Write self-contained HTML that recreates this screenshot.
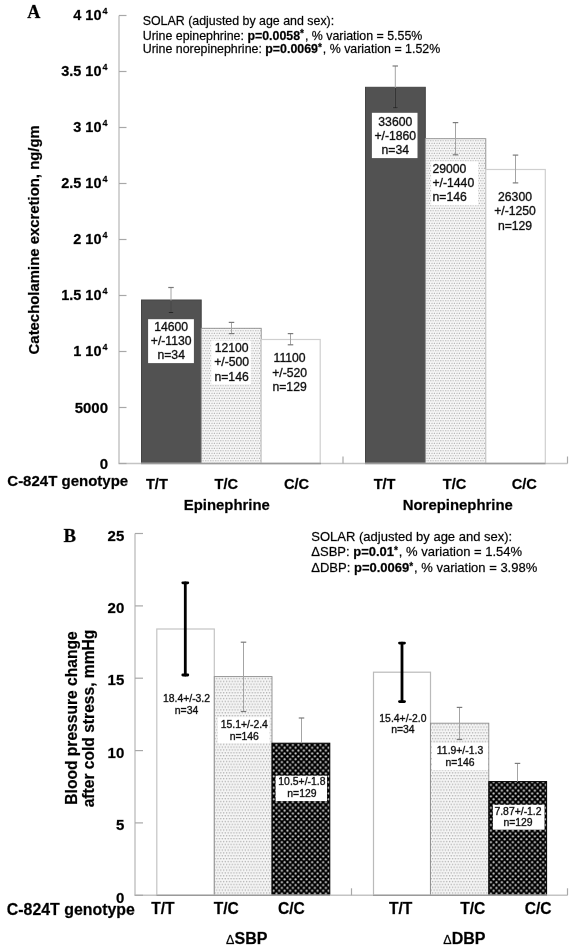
<!DOCTYPE html><html><head><meta charset="utf-8"><style>html,body{margin:0;padding:0;background:#fff;}svg{display:block;will-change:transform} text{stroke:#000;stroke-width:0.35px;stroke-opacity:0.6}</style></head><body>
<svg width="576" height="948" viewBox="0 0 576 948" font-family='"Liberation Sans", sans-serif'>
<defs>
<pattern id="lt" patternUnits="userSpaceOnUse" width="2.5" height="5"><rect width="2.5" height="5" fill="#f7f7f7"/><circle cx="0.75" cy="0.75" r="0.62" fill="#9a9a9a"/><circle cx="2" cy="3.25" r="0.62" fill="#9a9a9a"/></pattern>
<pattern id="lt2" patternUnits="userSpaceOnUse" width="2.86" height="5.72"><rect width="2.86" height="5.72" fill="#f6f6f6"/><circle cx="0.7" cy="0.7" r="0.62" fill="#999"/><circle cx="2.13" cy="3.56" r="0.62" fill="#999"/></pattern>
<pattern id="bk" patternUnits="userSpaceOnUse" width="5.5" height="5.72"><rect width="5.5" height="5.72" fill="#000"/><circle cx="1.4" cy="1.4" r="1.1" fill="#d8d8d8"/><circle cx="4.15" cy="4.26" r="1.1" fill="#d8d8d8"/></pattern>
</defs>
<rect width="576" height="948" fill="#fff"/>
<text x="27.2" y="18.2" font-family='"Liberation Serif", serif' font-weight="bold" font-size="18.2">A</text>
<text x="101.5" y="20.3" text-anchor="end" font-weight="bold" font-size="14.5">4 10</text>
<text x="102.4" y="13.9" font-weight="bold" font-size="9">4</text>
<text x="101.5" y="76.3" text-anchor="end" font-weight="bold" font-size="14.5">3.5 10</text>
<text x="102.4" y="69.9" font-weight="bold" font-size="9">4</text>
<text x="101.5" y="132.3" text-anchor="end" font-weight="bold" font-size="14.5">3 10</text>
<text x="102.4" y="125.9" font-weight="bold" font-size="9">4</text>
<text x="101.5" y="188.3" text-anchor="end" font-weight="bold" font-size="14.5">2.5 10</text>
<text x="102.4" y="181.9" font-weight="bold" font-size="9">4</text>
<text x="101.5" y="244.3" text-anchor="end" font-weight="bold" font-size="14.5">2 10</text>
<text x="102.4" y="237.9" font-weight="bold" font-size="9">4</text>
<text x="101.5" y="300.3" text-anchor="end" font-weight="bold" font-size="14.5">1.5 10</text>
<text x="102.4" y="293.9" font-weight="bold" font-size="9">4</text>
<text x="101.5" y="356.3" text-anchor="end" font-weight="bold" font-size="14.5">1 10</text>
<text x="102.4" y="349.9" font-weight="bold" font-size="9">4</text>
<text x="108" y="413.2" text-anchor="end" font-weight="bold" font-size="15">5000</text>
<text x="108" y="469" text-anchor="end" font-weight="bold" font-size="15">0</text>
<text transform="translate(38.7,239.8) rotate(-90)" text-anchor="middle" font-weight="bold" font-size="14.9">Catecholamine excretion, ng/gm</text>
<text x="142.7" y="25.3" font-size="12.4">SOLAR (adjusted by age and sex):</text>
<text x="142.7" y="39.6" font-size="12.4">Urine epinephrine: <tspan font-weight="bold">p=0.0058<tspan font-size="10" dy="-2.4">*</tspan></tspan><tspan dy="2.4" dx="0.9">, % variation</tspan> = 5.55%</text>
<text x="142.7" y="53.4" font-size="12.4">Urine norepinephrine: <tspan font-weight="bold">p=0.0069<tspan font-size="10" dy="-2.4">*</tspan></tspan><tspan dy="2.4" dx="0.9">, % variation</tspan> = 1.52%</text>
<rect x="141.5" y="300" width="59.69999999999999" height="163.5" fill="#525252" stroke="#444" stroke-width="1"/>
<rect x="201.2" y="328.3" width="60.0" height="135.2" fill="url(#lt)" stroke="#8c8c8c" stroke-width="0.9"/>
<rect x="261.2" y="339.5" width="59.0" height="124.0" fill="#fff" stroke="#cfcfcf" stroke-width="1.2"/>
<rect x="365.5" y="87.3" width="59.80000000000001" height="376.2" fill="#525252" stroke="#444" stroke-width="1"/>
<rect x="425.3" y="138.7" width="60.5" height="324.8" fill="url(#lt)" stroke="#8c8c8c" stroke-width="0.9"/>
<rect x="485.8" y="169.5" width="59.49999999999994" height="294.0" fill="#fff" stroke="#cfcfcf" stroke-width="1.2"/>
<line x1="171" y1="287.5" x2="171" y2="312.6" stroke="#a4a4a4" stroke-width="1" stroke-linecap="butt"/>
<line x1="168.25" y1="287.5" x2="173.75" y2="287.5" stroke="#7a7a7a" stroke-width="1.2" stroke-linecap="butt"/>
<line x1="168.25" y1="312.6" x2="173.75" y2="312.6" stroke="#7a7a7a" stroke-width="1.2" stroke-linecap="butt"/>
<line x1="171" y1="300.5" x2="171" y2="312.6" stroke="#1e1e1e" stroke-width="1"/><line x1="168.5" y1="312.6" x2="173.5" y2="312.6" stroke="#1e1e1e" stroke-width="1"/>
<line x1="231.5" y1="322.4" x2="231.5" y2="333.6" stroke="#a4a4a4" stroke-width="1" stroke-linecap="butt"/>
<line x1="228.75" y1="322.4" x2="234.25" y2="322.4" stroke="#7a7a7a" stroke-width="1.2" stroke-linecap="butt"/>
<line x1="228.75" y1="333.6" x2="234.25" y2="333.6" stroke="#7a7a7a" stroke-width="1.2" stroke-linecap="butt"/>
<line x1="290.5" y1="333.6" x2="290.5" y2="344.8" stroke="#a4a4a4" stroke-width="1" stroke-linecap="butt"/>
<line x1="287.75" y1="333.6" x2="293.25" y2="333.6" stroke="#7a7a7a" stroke-width="1.2" stroke-linecap="butt"/>
<line x1="287.75" y1="344.8" x2="293.25" y2="344.8" stroke="#7a7a7a" stroke-width="1.2" stroke-linecap="butt"/>
<line x1="395.3" y1="66" x2="395.3" y2="107.8" stroke="#a4a4a4" stroke-width="1" stroke-linecap="butt"/>
<line x1="392.55" y1="66" x2="398.05" y2="66" stroke="#7a7a7a" stroke-width="1.2" stroke-linecap="butt"/>
<line x1="392.55" y1="107.8" x2="398.05" y2="107.8" stroke="#7a7a7a" stroke-width="1.2" stroke-linecap="butt"/>
<line x1="395.3" y1="87.8" x2="395.3" y2="107.8" stroke="#1e1e1e" stroke-width="1"/><line x1="392.8" y1="107.8" x2="397.8" y2="107.8" stroke="#1e1e1e" stroke-width="1"/>
<line x1="455.5" y1="122.6" x2="455.5" y2="154.8" stroke="#a4a4a4" stroke-width="1" stroke-linecap="butt"/>
<line x1="452.75" y1="122.6" x2="458.25" y2="122.6" stroke="#7a7a7a" stroke-width="1.2" stroke-linecap="butt"/>
<line x1="452.75" y1="154.8" x2="458.25" y2="154.8" stroke="#7a7a7a" stroke-width="1.2" stroke-linecap="butt"/>
<line x1="515.5" y1="155.1" x2="515.5" y2="182.9" stroke="#a4a4a4" stroke-width="1" stroke-linecap="butt"/>
<line x1="512.75" y1="155.1" x2="518.25" y2="155.1" stroke="#7a7a7a" stroke-width="1.2" stroke-linecap="butt"/>
<line x1="512.75" y1="182.9" x2="518.25" y2="182.9" stroke="#7a7a7a" stroke-width="1.2" stroke-linecap="butt"/>
<line x1="119" y1="15.5" x2="119" y2="463.5" stroke="#c4c4c4" stroke-width="1.5"/>
<line x1="118.3" y1="463.5" x2="567.5" y2="463.5" stroke="#c4c4c4" stroke-width="1.5"/>
<line x1="119" y1="15.5" x2="126.5" y2="15.5" stroke="#a8a8a8" stroke-width="1.2"/>
<line x1="119" y1="71.5" x2="126.5" y2="71.5" stroke="#a8a8a8" stroke-width="1.2"/>
<line x1="119" y1="127.5" x2="126.5" y2="127.5" stroke="#a8a8a8" stroke-width="1.2"/>
<line x1="119" y1="183.5" x2="126.5" y2="183.5" stroke="#a8a8a8" stroke-width="1.2"/>
<line x1="119" y1="239.5" x2="126.5" y2="239.5" stroke="#a8a8a8" stroke-width="1.2"/>
<line x1="119" y1="295.5" x2="126.5" y2="295.5" stroke="#a8a8a8" stroke-width="1.2"/>
<line x1="119" y1="351.5" x2="126.5" y2="351.5" stroke="#a8a8a8" stroke-width="1.2"/>
<line x1="119" y1="407.5" x2="126.5" y2="407.5" stroke="#a8a8a8" stroke-width="1.2"/>
<line x1="119" y1="463.5" x2="126.5" y2="463.5" stroke="#a8a8a8" stroke-width="1.2"/>
<line x1="343" y1="456.5" x2="343" y2="463.5" stroke="#a8a8a8" stroke-width="1.2"/>
<line x1="567.5" y1="456.5" x2="567.5" y2="463.5" stroke="#a8a8a8" stroke-width="1.2"/>
<line x1="141" y1="463.5" x2="321" y2="463.5" stroke="#9a9a9a" stroke-width="1.3"/>
<line x1="365" y1="463.5" x2="545.5" y2="463.5" stroke="#9a9a9a" stroke-width="1.3"/>
<rect x="148.1" y="319.2" width="45.80000000000001" height="43.900000000000034" fill="#fff"/>
<text x="171.2" y="330.5" text-anchor="middle" font-size="12.2" fill="#111" style="stroke-width:0.5px">14600</text>
<text x="171.2" y="344.9" text-anchor="middle" font-size="12.2" fill="#111" style="stroke-width:0.5px">+/-1130</text>
<text x="171.2" y="359.1" text-anchor="middle" font-size="12.2" fill="#111" style="stroke-width:0.5px">n=34</text>
<rect x="211.3" y="340.5" width="39.5" height="43.5" fill="#fff"/>
<text x="231.6" y="351.7" text-anchor="middle" font-size="12.2" fill="#111" style="stroke-width:0.5px">12100</text>
<text x="231.6" y="366.3" text-anchor="middle" font-size="12.2" fill="#111" style="stroke-width:0.5px">+/-500</text>
<text x="231.6" y="380.6" text-anchor="middle" font-size="12.2" fill="#111" style="stroke-width:0.5px">n=146</text>
<text x="289.6" y="362" text-anchor="middle" font-size="12.2" fill="#111" style="stroke-width:0.5px">11100</text>
<text x="289.6" y="376.5" text-anchor="middle" font-size="12.2" fill="#111" style="stroke-width:0.5px">+/-520</text>
<text x="289.6" y="390.6" text-anchor="middle" font-size="12.2" fill="#111" style="stroke-width:0.5px">n=129</text>
<rect x="371.9" y="112.8" width="45.60000000000002" height="45.3" fill="#fff"/>
<text x="395.3" y="126" text-anchor="middle" font-size="12.2" fill="#111" style="stroke-width:0.5px">33600</text>
<text x="395.3" y="140.1" text-anchor="middle" font-size="12.2" fill="#111" style="stroke-width:0.5px">+/-1860</text>
<text x="395.3" y="154.2" text-anchor="middle" font-size="12.2" fill="#111" style="stroke-width:0.5px">n=34</text>
<rect x="431.2" y="161.5" width="46.80000000000001" height="43.69999999999999" fill="#fff"/>
<text x="432.5" y="172.5" text-anchor="start" font-size="12.2" fill="#111" style="stroke-width:0.5px">29000</text>
<text x="432.5" y="186.5" text-anchor="start" font-size="12.2" fill="#111" style="stroke-width:0.5px">+/-1440</text>
<text x="432.5" y="200.9" text-anchor="start" font-size="12.2" fill="#111" style="stroke-width:0.5px">n=146</text>
<text x="515" y="201.1" text-anchor="middle" font-size="12.2" fill="#111" style="stroke-width:0.5px">26300</text>
<text x="515" y="215.3" text-anchor="middle" font-size="12.2" fill="#111" style="stroke-width:0.5px">+/-1250</text>
<text x="515" y="230.2" text-anchor="middle" font-size="12.2" fill="#111" style="stroke-width:0.5px">n=129</text>
<text x="7.3" y="486.3" font-weight="bold" font-size="15">C-824T genotype</text>
<text x="156.9" y="488.6" text-anchor="middle" font-weight="bold" font-size="14.6">T/T</text>
<text x="226.3" y="488.6" text-anchor="middle" font-weight="bold" font-size="14.6">T/C</text>
<text x="296.5" y="488.6" text-anchor="middle" font-weight="bold" font-size="14.6">C/C</text>
<text x="384.6" y="488.6" text-anchor="middle" font-weight="bold" font-size="14.6">T/T</text>
<text x="454.6" y="488.6" text-anchor="middle" font-weight="bold" font-size="14.6">T/C</text>
<text x="524.2" y="488.6" text-anchor="middle" font-weight="bold" font-size="14.6">C/C</text>
<text x="226.8" y="510" text-anchor="middle" font-weight="bold" font-size="14.9">Epinephrine</text>
<text x="457.8" y="510" text-anchor="middle" font-weight="bold" font-size="14.9">Norepinephrine</text>
<text x="63.6" y="541.6" font-family='"Liberation Serif", serif' font-weight="bold" font-size="18.8">B</text>
<text x="124.3" y="540.7" text-anchor="end" font-weight="bold" font-size="15">25</text>
<text x="124.3" y="613.1" text-anchor="end" font-weight="bold" font-size="15">20</text>
<text x="124.3" y="685.4" text-anchor="end" font-weight="bold" font-size="15">15</text>
<text x="124.3" y="757.8" text-anchor="end" font-weight="bold" font-size="15">10</text>
<text x="124.3" y="830.1" text-anchor="end" font-weight="bold" font-size="15">5</text>
<text x="124.3" y="902.5" text-anchor="end" font-weight="bold" font-size="15">0</text>
<text transform="translate(76.5,718) rotate(-90)" text-anchor="middle" font-weight="bold" font-size="15.6">Blood pressure change</text>
<text transform="translate(94,718.5) rotate(-90)" text-anchor="middle" font-weight="bold" font-size="15.6">after cold stress, mmHg</text>
<text x="311.3" y="541" font-size="13">SOLAR (adjusted by age and sex):</text>
<text x="311.3" y="556.4" font-size="13">ΔSBP: <tspan font-weight="bold">p=0.01<tspan font-size="10" dy="-2.4">*</tspan></tspan><tspan dy="2.4" dx="0.9">, % variation</tspan> = 1.54%</text>
<text x="311.3" y="572" font-size="13">ΔDBP: <tspan font-weight="bold">p=0.0069<tspan font-size="10" dy="-2.4">*</tspan></tspan><tspan dy="2.4" dx="0.9">, % variation</tspan> = 3.98%</text>
<rect x="156.8" y="629" width="57.5" height="266.29999999999995" fill="#fff" stroke="#c4c4c4" stroke-width="1.2"/>
<rect x="214.3" y="676.6" width="57.69999999999999" height="218.69999999999993" fill="url(#lt2)" stroke="#8c8c8c" stroke-width="0.9"/>
<rect x="272" y="743.2" width="57.80000000000001" height="152.0999999999999" fill="url(#bk)" stroke="#000" stroke-width="1"/>
<rect x="373.5" y="672.2" width="57.0" height="223.0999999999999" fill="#fff" stroke="#bababa" stroke-width="1.2"/>
<rect x="430.5" y="723.2" width="58.30000000000001" height="172.0999999999999" fill="url(#lt2)" stroke="#8c8c8c" stroke-width="0.9"/>
<rect x="488.8" y="781.6" width="57.80000000000001" height="113.69999999999993" fill="url(#bk)" stroke="#000" stroke-width="1"/>
<line x1="185.3" y1="582.8" x2="185.3" y2="675" stroke="#000" stroke-width="2.8" stroke-linecap="round"/>
<line x1="182.8" y1="582.8" x2="187.8" y2="582.8" stroke="#000" stroke-width="2.8" stroke-linecap="round"/>
<line x1="182.8" y1="675" x2="187.8" y2="675" stroke="#000" stroke-width="2.8" stroke-linecap="round"/>
<line x1="243.5" y1="642.2" x2="243.5" y2="711.5" stroke="#a4a4a4" stroke-width="1" stroke-linecap="butt"/>
<line x1="240.75" y1="642.2" x2="246.25" y2="642.2" stroke="#7a7a7a" stroke-width="1.2" stroke-linecap="butt"/>
<line x1="240.75" y1="711.5" x2="246.25" y2="711.5" stroke="#7a7a7a" stroke-width="1.2" stroke-linecap="butt"/>
<line x1="402" y1="643.1" x2="402" y2="701.6" stroke="#000" stroke-width="2.8" stroke-linecap="round"/>
<line x1="399.5" y1="643.1" x2="404.5" y2="643.1" stroke="#000" stroke-width="2.8" stroke-linecap="round"/>
<line x1="399.5" y1="701.6" x2="404.5" y2="701.6" stroke="#000" stroke-width="2.8" stroke-linecap="round"/>
<line x1="459.5" y1="707.4" x2="459.5" y2="739.5" stroke="#a4a4a4" stroke-width="1" stroke-linecap="butt"/>
<line x1="456.75" y1="707.4" x2="462.25" y2="707.4" stroke="#7a7a7a" stroke-width="1.2" stroke-linecap="butt"/>
<line x1="456.75" y1="739.5" x2="462.25" y2="739.5" stroke="#7a7a7a" stroke-width="1.2" stroke-linecap="butt"/>
<line x1="517.5" y1="763.4" x2="517.5" y2="781.6" stroke="#a4a4a4" stroke-width="1" stroke-linecap="butt"/>
<line x1="514.75" y1="763.4" x2="520.25" y2="763.4" stroke="#7a7a7a" stroke-width="1.2" stroke-linecap="butt"/>
<line x1="301.5" y1="718" x2="301.5" y2="743.2" stroke="#a4a4a4" stroke-width="1" stroke-linecap="butt"/>
<line x1="298.75" y1="718" x2="304.25" y2="718" stroke="#7a7a7a" stroke-width="1.2" stroke-linecap="butt"/>
<line x1="135" y1="533.5" x2="135" y2="895.3" stroke="#c4c4c4" stroke-width="1.5"/>
<line x1="134.3" y1="895.3" x2="567.5" y2="895.3" stroke="#c4c4c4" stroke-width="1.5"/>
<line x1="135" y1="533.5" x2="143" y2="533.5" stroke="#a8a8a8" stroke-width="1.2"/>
<line x1="135" y1="605.9" x2="143" y2="605.9" stroke="#a8a8a8" stroke-width="1.2"/>
<line x1="135" y1="678.2" x2="143" y2="678.2" stroke="#a8a8a8" stroke-width="1.2"/>
<line x1="135" y1="750.6" x2="143" y2="750.6" stroke="#a8a8a8" stroke-width="1.2"/>
<line x1="135" y1="822.9" x2="143" y2="822.9" stroke="#a8a8a8" stroke-width="1.2"/>
<line x1="135" y1="895.3" x2="143" y2="895.3" stroke="#a8a8a8" stroke-width="1.2"/>
<line x1="351.5" y1="888.3" x2="351.5" y2="895.3" stroke="#a8a8a8" stroke-width="1.2"/>
<line x1="567.5" y1="888.3" x2="567.5" y2="895.3" stroke="#a8a8a8" stroke-width="1.2"/>
<line x1="156.5" y1="895.3" x2="330" y2="895.3" stroke="#9a9a9a" stroke-width="1.3"/>
<line x1="373" y1="895.3" x2="547" y2="895.3" stroke="#9a9a9a" stroke-width="1.3"/>
<text x="186.5" y="702" text-anchor="middle" font-size="10.4" fill="#111" style="stroke-width:0.5px">18.4+/-3.2</text>
<text x="186.5" y="714" text-anchor="middle" font-size="10.4" fill="#111" style="stroke-width:0.5px">n=34</text>
<rect x="217.7" y="717.2" width="51.900000000000034" height="26.0" fill="#fff"/>
<text x="244.3" y="728" text-anchor="middle" font-size="10.4" fill="#111" style="stroke-width:0.5px">15.1+/-2.4</text>
<text x="244.3" y="739.9" text-anchor="middle" font-size="10.4" fill="#111" style="stroke-width:0.5px">n=146</text>
<rect x="275.6" y="775.7" width="51.39999999999998" height="25.399999999999977" fill="#fff"/>
<text x="301.9" y="785.4" text-anchor="middle" font-size="10.4" fill="#111" style="stroke-width:0.5px">10.5+/-1.8</text>
<text x="301.9" y="797.3" text-anchor="middle" font-size="10.4" fill="#111" style="stroke-width:0.5px">n=129</text>
<text x="402.9" y="721.5" text-anchor="middle" font-size="10.4" fill="#111" style="stroke-width:0.5px">15.4+/-2.0</text>
<text x="402.9" y="733.4" text-anchor="middle" font-size="10.4" fill="#111" style="stroke-width:0.5px">n=34</text>
<rect x="432" y="743" width="56" height="27" fill="#fff"/>
<text x="460" y="754.4" text-anchor="middle" font-size="10.4" fill="#111" style="stroke-width:0.5px">11.9+/-1.3</text>
<text x="460" y="765.8" text-anchor="middle" font-size="10.4" fill="#111" style="stroke-width:0.5px">n=146</text>
<rect x="492.9" y="804.8" width="51.60000000000002" height="24.90000000000009" fill="#fff"/>
<text x="518" y="814.6" text-anchor="middle" font-size="10.4" fill="#111" style="stroke-width:0.5px">7.87+/-1.2</text>
<text x="518" y="825.5" text-anchor="middle" font-size="10.4" fill="#111" style="stroke-width:0.5px">n=129</text>
<text x="6.8" y="915.3" font-weight="bold" font-size="15.9">C-824T genotype</text>
<text x="162.9" y="914.3" text-anchor="middle" font-weight="bold" font-size="15.6">T/T</text>
<text x="226.3" y="914.3" text-anchor="middle" font-weight="bold" font-size="15.6">T/C</text>
<text x="291.4" y="914.3" text-anchor="middle" font-weight="bold" font-size="15.6">C/C</text>
<text x="400.7" y="914.3" text-anchor="middle" font-weight="bold" font-size="15.6">T/T</text>
<text x="472.8" y="914.3" text-anchor="middle" font-weight="bold" font-size="15.6">T/C</text>
<text x="538.1" y="914.3" text-anchor="middle" font-weight="bold" font-size="15.6">C/C</text>
<text x="226" y="944.2" font-weight="bold" font-size="15.6"><tspan font-weight="normal" font-size="12.5">Δ</tspan><tspan font-size="16" dx="0.2">SBP</tspan></text>
<text x="443.2" y="944.2" font-weight="bold" font-size="15.6"><tspan font-weight="normal" font-size="12.5">Δ</tspan><tspan font-size="16" dx="0.2">DBP</tspan></text>
</svg></body></html>
